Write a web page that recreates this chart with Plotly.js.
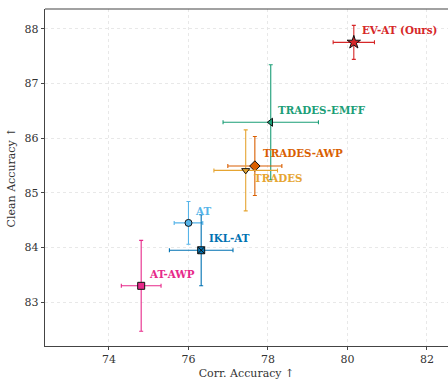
<!DOCTYPE html>
<html>
<head>
<meta charset="utf-8">
<script src="https://cdn.plot.ly/plotly-3.0.1.min.js"></script>
<style>html,body{margin:0;padding:0;background:#fff;}#chart{width:448px;height:380px;}</style>
</head>
<body>
<div id="chart"></div>
<script>
// Data
const methods   = ["EV-AT (Ours)", "TRADES-EMFF", "TRADES-AWP", "TRADES", "AT", "IKL-AT", "AT-AWP"];
const corrAcc   = [80.16, 78.07, 77.67, 77.44, 76.00, 76.32, 74.81];
const corrErr   = [0.52, 1.20, 0.68, 0.80, 0.36, 0.80, 0.50];
const cleanAcc  = [87.75, 86.29, 85.49, 85.41, 84.45, 83.95, 83.30];
const cleanErr  = [0.31, 1.05, 0.54, 0.74, 0.39, 0.65, 0.83];

// Styles
const colors  = ["#d62728", "#1b9e77", "#d95f02", "#e6a532", "#56b4e9", "#0072b2", "#e7298a"];
const symbols = ["star", "triangle-left", "diamond", "triangle-down", "circle", "square-x", "square"];
const sizes   = [10, 7, 8, 7, 7, 7, 7];
const labelShift = [[6, 12], [5, 12], [6, 13], [6, -8], [5, 12], [6, 12], [6, 12]];

const serif = "DejaVu Serif, serif";
const traces = methods.map((m, i) => ({
  type: "scatter", mode: "markers", name: m,
  x: [corrAcc[i]], y: [cleanAcc[i]],
  error_x: {type: "data", array: [corrErr[i]], visible: true, color: colors[i], thickness: 1.1, width: 2},
  error_y: {type: "data", array: [cleanErr[i]], visible: true, color: colors[i], thickness: 1.1, width: 2},
  marker: {symbol: symbols[i], size: sizes[i], color: colors[i], line: {color: "#111", width: 1}},
  hoverinfo: "skip"
}));

const annotations = methods.map((m, i) => ({
  x: corrAcc[i], y: cleanAcc[i], xref: "x", yref: "y",
  text: "<b>" + m + "</b>", showarrow: false,
  xanchor: "left", yanchor: "middle",
  xshift: labelShift[i][0], yshift: labelShift[i][1],
  font: {family: serif, size: 10.3, color: colors[i]}
}));

const layout = {
  width: 448, height: 380,
  margin: {l: 45, r: 0, t: 9, b: 34},
  paper_bgcolor: "#fff", plot_bgcolor: "#fff",
  showlegend: false,
  font: {family: serif, size: 11, color: "#333"},
  xaxis: {
    range: [72.39, 82.53], tickvals: [74, 76, 78, 80, 82],
    showgrid: true, gridcolor: "#e2e2e2", griddash: "dot", gridwidth: 0.8,
    zeroline: false, showline: true, linecolor: "#444", linewidth: 1.2, mirror: false,
    ticks: "outside", ticklen: 3, tickcolor: "#444",
    tickfont: {family: serif, size: 11, color: "#333"},
    title: {text: "Corr. Accuracy ↑", font: {family: serif, size: 11, color: "#333"}, standoff: 4}
  },
  yaxis: {
    range: [82.2, 88.36], tickvals: [83, 84, 85, 86, 87, 88],
    showgrid: true, gridcolor: "#e2e2e2", griddash: "dot", gridwidth: 0.8,
    zeroline: false, showline: true, linecolor: "#444", linewidth: 1.2,
    ticks: "outside", ticklen: 3, tickcolor: "#444",
    tickfont: {family: serif, size: 11, color: "#333"},
    title: {text: "Clean Accuracy ↑", font: {family: serif, size: 11, color: "#333"}, standoff: 6}
  },
  shapes: [{type: "line", xref: "paper", yref: "paper", x0: 0, x1: 1, y0: 1, y1: 1, line: {color: "#444", width: 1.2}}],
  annotations: annotations
};

Plotly.newPlot("chart", traces, layout, {displayModeBar: false, staticPlot: true});
</script>
</body>
</html>
